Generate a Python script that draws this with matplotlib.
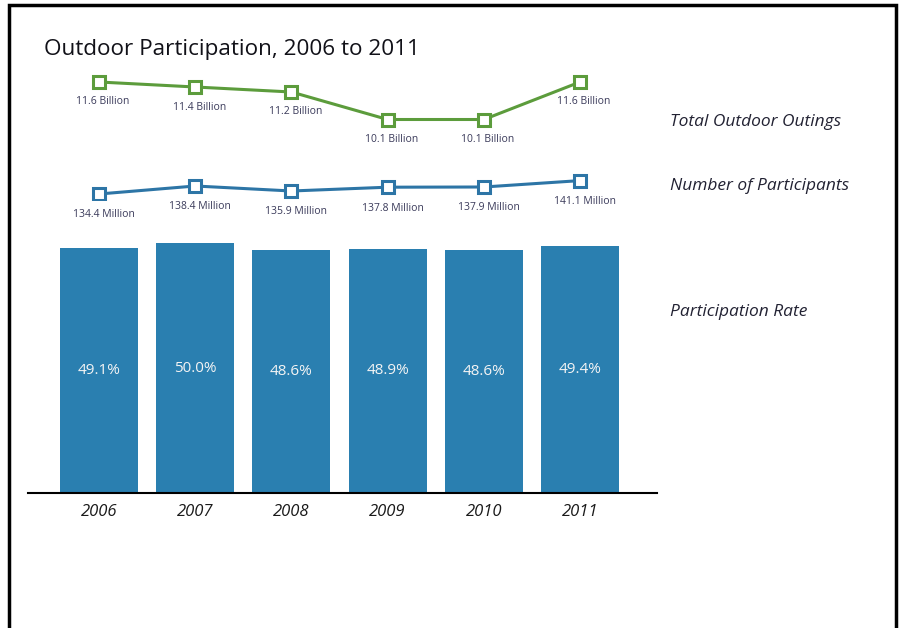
import matplotlib
matplotlib.use("Agg")
import matplotlib.pyplot as plt
from matplotlib.patches import Rectangle
import numpy as np

years = ["2006", "2007", "2008", "2009", "2010", "2011"]
rate = [49.1, 50.0, 48.6, 48.9, 48.6, 49.4]
outings = [11.6, 11.4, 11.2, 10.1, 10.1, 11.6]
participants = [134.4, 138.4, 135.9, 137.8, 137.9, 141.1]

bar_color = "#2a7fb0"
green = "#5c9c3c"
blue = "#2d75a6"
plt.rcParams["font.family"] = ["Open Sans", "DejaVu Sans"]

W, H = 901, 628
fig = plt.figure(figsize=(W / 100, H / 100), dpi=100)


def px_axes(left, top, right, bottom):
    # axes placed by pixel box (top-left origin)
    return fig.add_axes([left / W, 1 - bottom / H, (right - left) / W, (bottom - top) / H])


x = np.arange(len(years))
xlim = (-0.738, 5.80)

# participation rate bars
ax = px_axes(28, 193, 657, 493)
ax.bar(x, rate, width=0.81, color=bar_color)
ax.set_xlim(*xlim)
ax.set_ylim(0, 60)
for s in ["top", "right", "left"]:
    ax.spines[s].set_visible(False)
ax.spines["bottom"].set_linewidth(1.5)
ax.set_yticks([])
ax.set_xticks(x)
ax.set_xticklabels(years, fontstyle="italic", fontsize=12, color="#1a1a1a")
ax.tick_params(axis="x", length=0, pad=8)
ax.patch.set_alpha(0)
for xi, v in zip(x, rate):
    ax.text(xi, v * 0.5, f"{v:.1f}%", ha="center", va="center",
            color="#f4f4f4", fontsize=11)

# total outdoor outings line
ax_g = px_axes(28, 70, 657, 130)
ax_g.plot(x, outings, color=green, lw=2.2, marker="s", ms=8,
          mfc="white", mec=green, mew=2.2)
ax_g.set_xlim(*xlim)
ax_g.set_ylim(9.68, 12.08)
ax_g.axis("off")
for xi, v in zip(x, outings):
    ax_g.annotate(f"{v:.1f} Billion", (xi, v), xytext=(4, -20),
                  textcoords="offset pixels", ha="center", va="center",
                  fontsize=7.5, color="#3a3a5a")

# participants line
ax_b = px_axes(28, 170, 657, 200)
ax_b.plot(x, participants, color=blue, lw=2.2, marker="s", ms=8,
          mfc="white", mec=blue, mew=2.2)
ax_b.set_xlim(*xlim)
ax_b.set_ylim(131.4, 146.4)
ax_b.axis("off")
for xi, v in zip(x, participants):
    ax_b.annotate(f"{v:.1f} Million", (xi, v), xytext=(5, -21),
                  textcoords="offset pixels", ha="center", va="center",
                  fontsize=7.5, color="#3a3a5a")

fig.text(44 / W, 1 - 50 / H, "Outdoor Participation, 2006 to 2011",
         fontsize=16.2, color="#111118", va="center", ha="left")

for label, ypx in [("Total Outdoor Outings", 122),
                   ("Number of Participants", 186),
                   ("Participation Rate", 312)]:
    fig.text(670 / W, 1 - ypx / H, label, fontsize=12.5, fontstyle="italic",
             color="#222233", va="center", ha="left")

# outer frame
fig.patches.append(Rectangle((9 / W, -0.05), (896 - 9) / W, 1.05 - 5 / H,
                             transform=fig.transFigure, fill=False,
                             edgecolor="black", linewidth=2.5))

fig.savefig("out.png", dpi=100)
